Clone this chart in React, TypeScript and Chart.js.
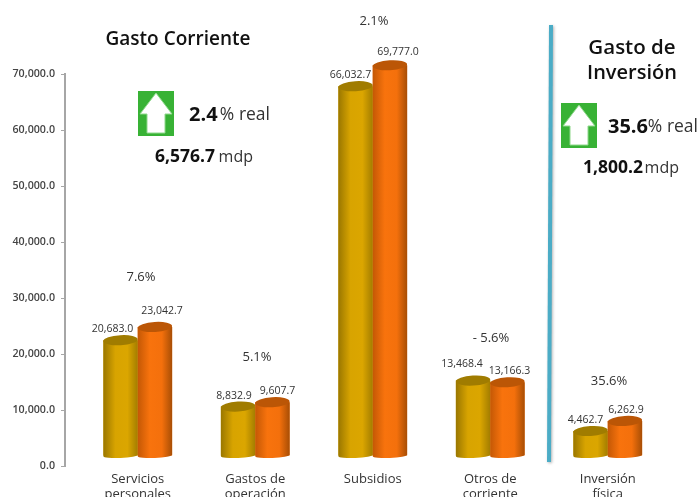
import React, { useEffect, useRef } from "react";
import { Chart, registerables } from "chart.js";

Chart.register(...registerables);

const categories = [["Servicios", "personales"], ["Gastos de", "operación"], ["Subsidios"], ["Otros de", "corriente"], ["Inversión", "física"]];
const serie2012 = [20683.0, 8832.9, 66032.7, 13468.4, 4462.7];
const serie2013 = [23042.7, 9607.7, 69777.0, 13166.3, 6262.9];
const variations = ["7.6%", "5.1%", "2.1%", "- 5.6%", "35.6%"];
const yTicks = [0, 10000, 20000, 30000, 40000, 50000, 60000, 70000];

const FONT = '"Open Sans", sans-serif';
const fmt = (v: number) => v.toLocaleString("en-US", { minimumFractionDigits: 1, maximumFractionDigits: 1 });

const SHIFT_X = 14;
const SHIFT_Y = -10;
const labelNudge = [
  [[-8, 0], [7, -5]],
  [[-4, 0], [5, 0]],
  [[-5, 0], [8, -2]],
  [[-11, -6], [2, 0]],
  [[-5, 0], [1, 0]],
];
const variationPos = [[141, 277], [257, 357], [374, 21], [491, 338], [609, 381]];

const styles = [
  { stops: ["#9a7700", "#d8a400", "#dba600", "#a37d00"], cap: "#a07c00" },
  { stops: ["#c45805", "#f8730d", "#f4700c", "#a84e05"], cap: "#bb5606" },
];

function arrowBox(ctx: CanvasRenderingContext2D, x: number, y: number) {
  ctx.fillStyle = "#38b235";
  ctx.fillRect(x, y, 36, 45);
  ctx.beginPath();
  ctx.moveTo(x + 18, y + 2);
  ctx.lineTo(x + 34, y + 23);
  ctx.lineTo(x + 27, y + 23);
  ctx.lineTo(x + 27, y + 42);
  ctx.lineTo(x + 9, y + 42);
  ctx.lineTo(x + 9, y + 23);
  ctx.lineTo(x + 2, y + 23);
  ctx.closePath();
  ctx.fillStyle = "#fff";
  ctx.fill();
  ctx.strokeStyle = "#8fd88c";
  ctx.lineWidth = 1;
  ctx.stroke();
}

function text(ctx: CanvasRenderingContext2D, s: string, x: number, y: number, font: string, color: string, align: CanvasTextAlign = "center") {
  ctx.font = font;
  ctx.fillStyle = color;
  ctx.textAlign = align;
  ctx.textBaseline = "middle";
  ctx.fillText(s, x, y);
}

const cylinders = {
  id: "cylinders",
  beforeDatasetsDraw(chart: any) {
    chart.ctx.save();
    chart.ctx.translate(SHIFT_X, SHIFT_Y);
  },
  afterDatasetsDraw(chart: any) {
    const ctx: CanvasRenderingContext2D = chart.ctx;
    [0, 1].forEach((d) => {
      chart.getDatasetMeta(d).data.forEach((el: any) => {
        const left = el.x - el.width / 2;
        const right = el.x + el.width / 2;
        const g = ctx.createLinearGradient(left, 0, right, 0);
        const s = styles[d];
        g.addColorStop(0, s.stops[0]);
        g.addColorStop(0.35, s.stops[1]);
        g.addColorStop(0.7, s.stops[2]);
        g.addColorStop(1, s.stops[3]);
        ctx.fillStyle = g;
        ctx.beginPath();
        ctx.moveTo(left, el.y);
        ctx.lineTo(left, el.base);
        ctx.ellipse(el.x, el.base, el.width / 2, 2.5, -0.04, Math.PI, 0, true);
        ctx.lineTo(right, el.y);
        ctx.closePath();
        ctx.fill();
        ctx.fillStyle = s.cap;
        ctx.beginPath();
        ctx.ellipse(el.x, el.y, el.width / 2, 5, -0.06, 0, Math.PI * 2);
        ctx.fill();
      });
    });
    ctx.restore();
  },
  afterDraw(chart: any) {
    const ctx: CanvasRenderingContext2D = chart.ctx;
    ctx.save();
    [0, 1].forEach((d) => {
      chart.getDatasetMeta(d).data.forEach((el: any, i: number) => {
        const [dx, dy] = labelNudge[i][d];
        const v = chart.data.datasets[d].data[i] as number;
        text(ctx, fmt(v), el.x + SHIFT_X + dx, el.y - 21 + dy, `10.5px ${FONT}`, "#333");
      });
    });
    variations.forEach((s, i) => text(ctx, s, variationPos[i][0], variationPos[i][1], `13px ${FONT}`, "#333"));

    text(ctx, "Gasto Corriente", 178, 40, `600 19px ${FONT}`, "#111");
    text(ctx, "Gasto de", 632, 48, `600 20.5px ${FONT}`, "#111");
    text(ctx, "Inversión", 632, 73, `600 20px ${FONT}`, "#111");

    arrowBox(ctx, 138, 91);
    text(ctx, "2.4", 189, 115, `700 20px ${FONT}`, "#111", "left");
    text(ctx, "% real", 270, 115, `17.5px ${FONT}`, "#333", "right");
    text(ctx, "6,576.7", 155, 157, `700 17.5px ${FONT}`, "#111", "left");
    text(ctx, "mdp", 253, 157, `16px ${FONT}`, "#333", "right");

    arrowBox(ctx, 561, 103);
    text(ctx, "35.6", 608, 127, `700 20px ${FONT}`, "#111", "left");
    text(ctx, "% real", 698, 127, `17.5px ${FONT}`, "#333", "right");
    text(ctx, "1,800.2", 583, 168, `700 17.5px ${FONT}`, "#111", "left");
    text(ctx, "mdp", 679, 168, `16px ${FONT}`, "#333", "right");

    ctx.save();
    ctx.shadowColor = "rgba(0,0,0,0.3)";
    ctx.shadowBlur = 3;
    ctx.shadowOffsetX = 1;
    ctx.shadowOffsetY = 1;
    ctx.strokeStyle = "#4bacc6";
    ctx.lineWidth = 4;
    ctx.beginPath();
    ctx.moveTo(551, 25);
    ctx.lineTo(549, 462);
    ctx.stroke();
    ctx.restore();
    ctx.restore();
  },
};

export default function App() {
  const ref = useRef<HTMLCanvasElement>(null);
  useEffect(() => {
    const chart = new Chart(ref.current!, {
      type: "bar",
      data: {
        labels: categories as any,
        datasets: [
          { label: "2012", data: serie2012, backgroundColor: "#d8a400", clip: false as any },
          { label: "2013", data: serie2013, backgroundColor: "#f4700c", clip: false as any },
        ],
      },
      options: {
        responsive: false,
        animation: false,
        devicePixelRatio: 1,
        layout: { padding: { top: 74, right: 46.5, bottom: 0, left: 0 } },
        plugins: { legend: { display: false }, title: { display: false }, tooltip: { enabled: false } },
        datasets: { bar: { barPercentage: 1, categoryPercentage: 0.585 } },
        scales: {
          x: {
            grid: { display: false },
            border: { display: false },
            afterFit: (s: any) => { s.height = 31; },
            ticks: {
              autoSkip: false, maxRotation: 0, minRotation: 0, labelOffset: SHIFT_X, padding: -2,
              color: "#333", font: { family: '"Open Sans", sans-serif', size: 13, lineHeight: 1.12 },
            },
          },
          y: {
            min: 0,
            max: 70000,
            afterFit: (s: any) => { s.width = 65; },
            afterBuildTicks: (s: any) => { s.ticks = yTicks.map((value) => ({ value })); },
            grid: { drawOnChartArea: false, tickLength: 4, color: "#a6a6a6" },
            border: { color: "#a6a6a6", width: 2 },
            ticks: {
              padding: 6, color: "#444", font: { family: '"Open Sans", sans-serif', size: 10.7, weight: "600" as any },
              callback: (v: any) => fmt(Number(v)),
            },
          },
        },
      },
      plugins: [cylinders as any],
    });
    return () => chart.destroy();
  }, []);
  return <canvas ref={ref} width={699} height={497} style={{ display: "block", position: "absolute", left: 0, top: 0, background: "#fff" }} />;
}
